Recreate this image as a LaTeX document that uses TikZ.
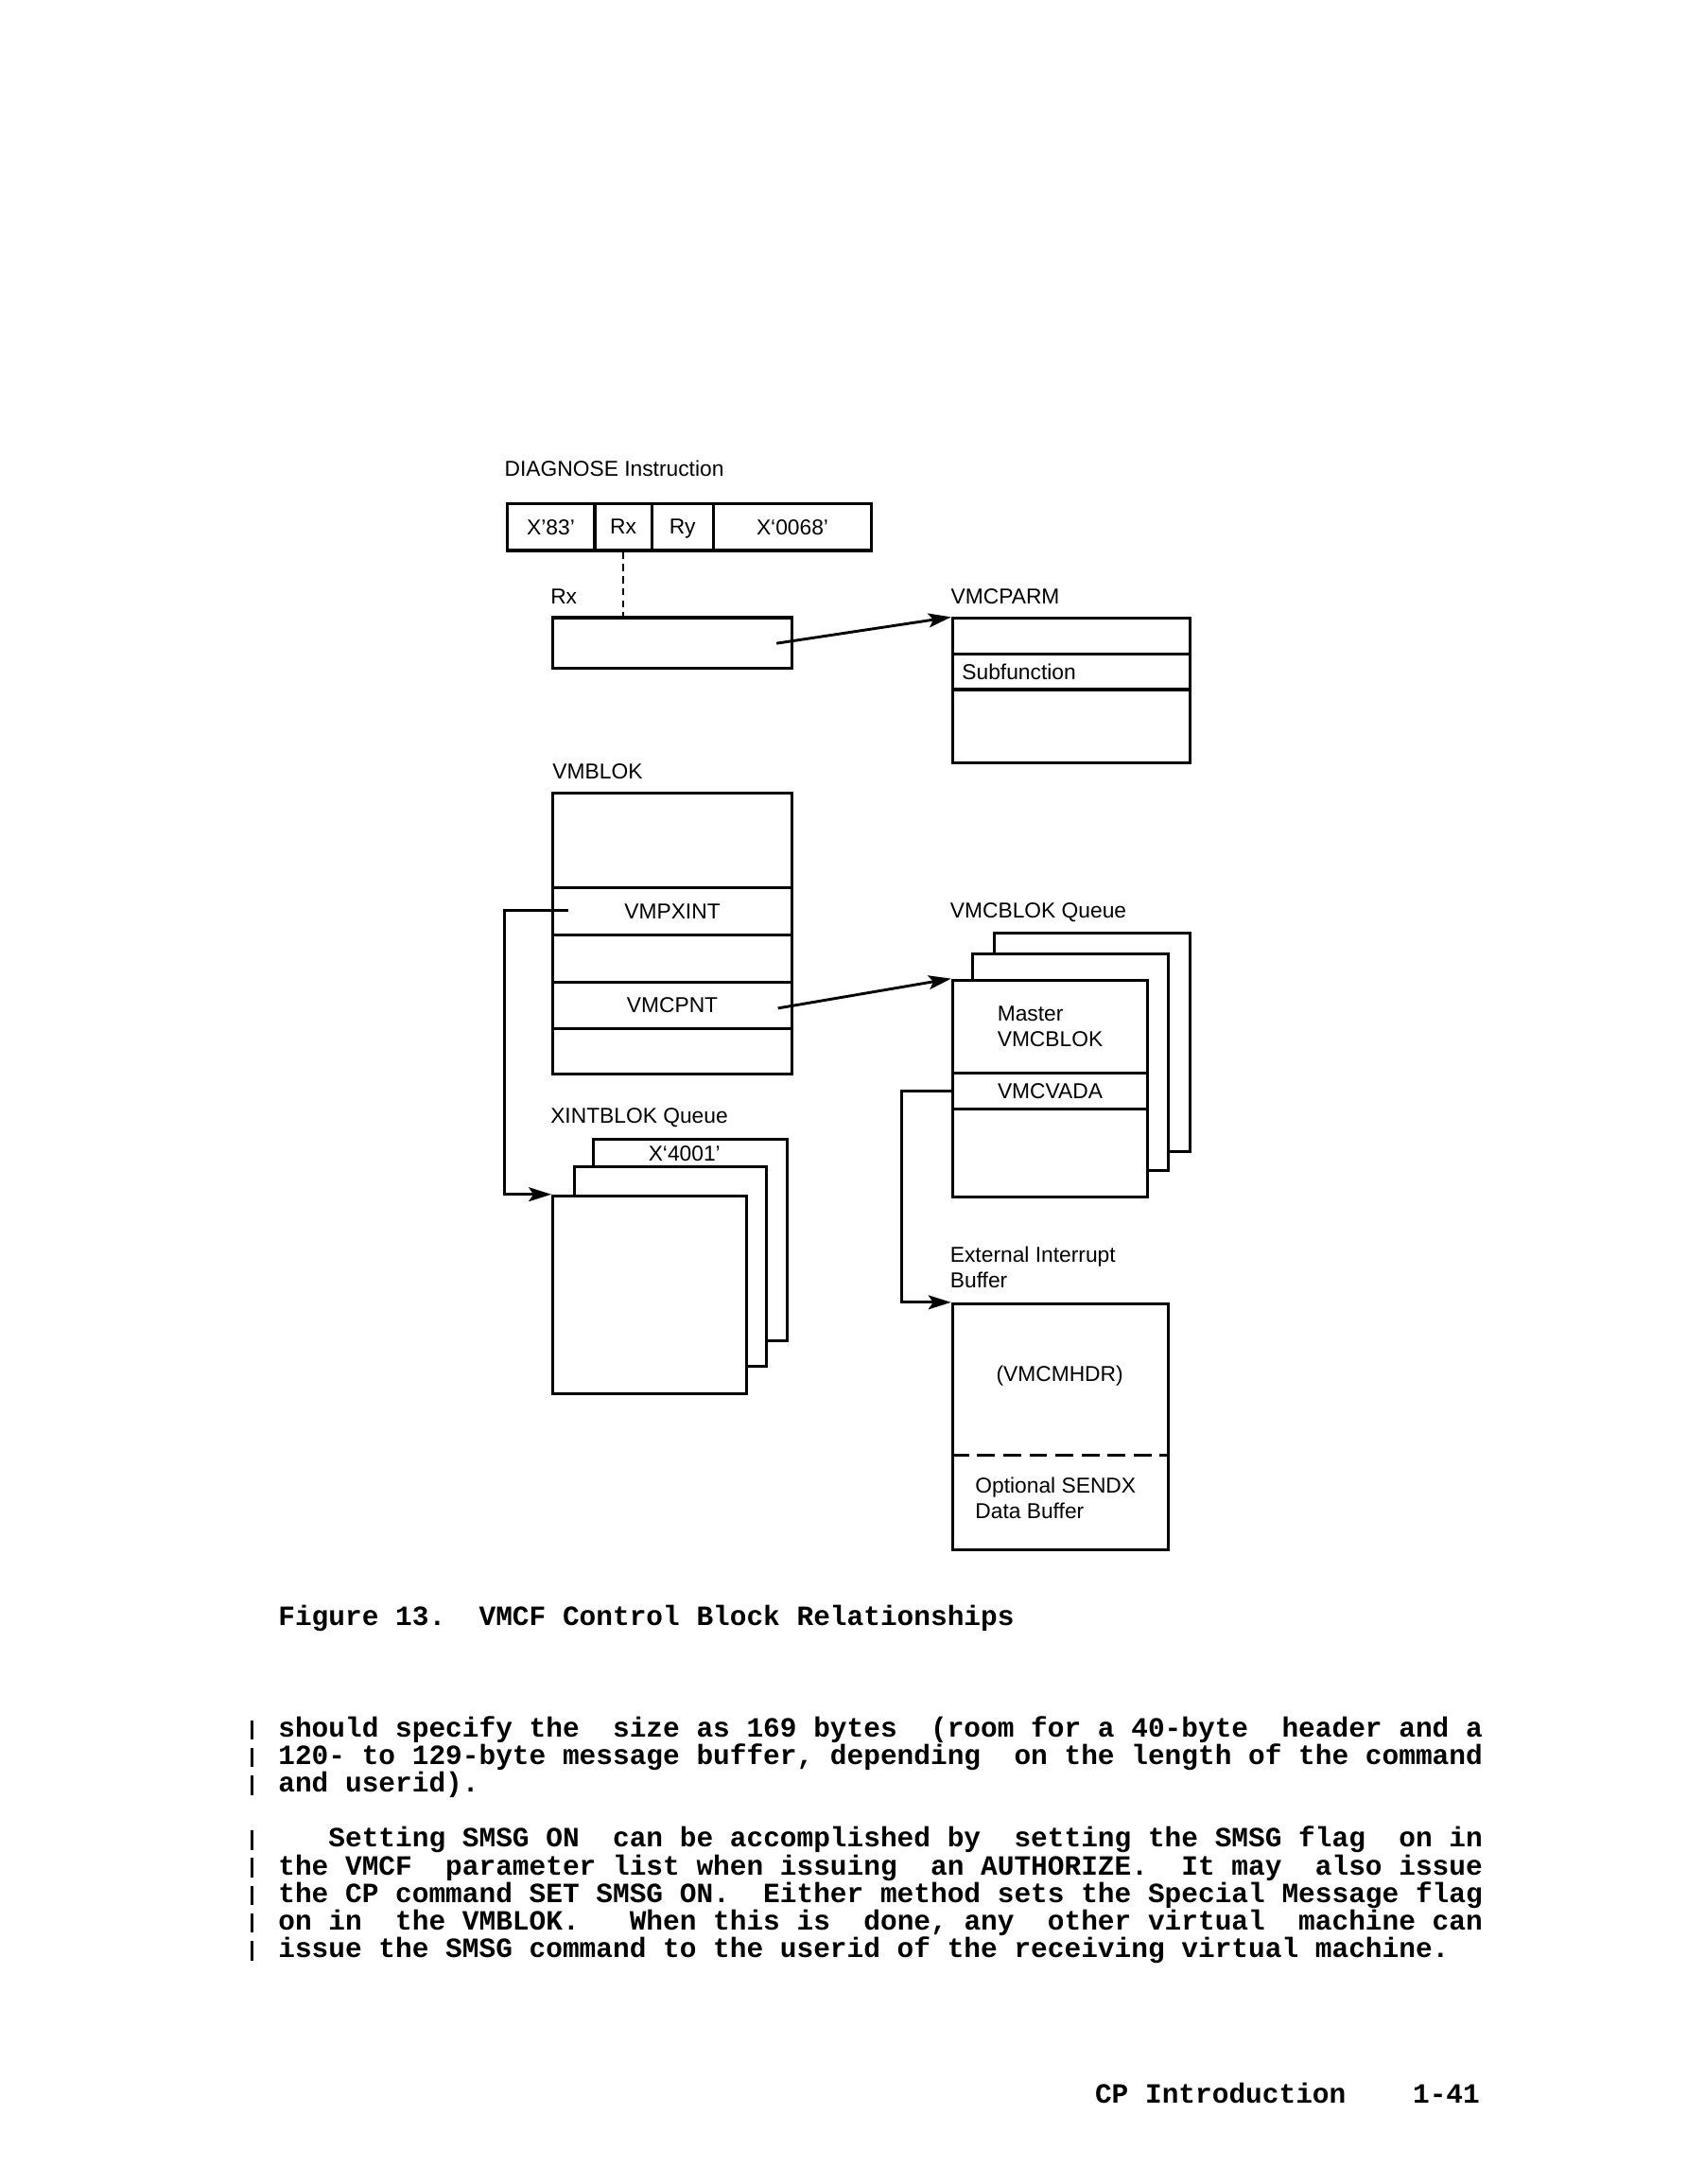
\documentclass[tikz,border=0pt]{standalone}
\usepackage{fontspec}
\setmainfont{Liberation Sans}
\newfontfamily\prtfont{Liberation Mono}
\usetikzlibrary{arrows.meta,calc}
\newcommand{\px}{0.017828cm}
\newcommand{\figfont}{\fontsize{7.85}{9.4}\selectfont}
\newcommand{\prtbody}{\prtfont\bfseries\fontsize{10.15}{12}\selectfont\frenchspacing}

\begin{document}
\begin{tikzpicture}[
    x=\px, y=-\px,
    fld/.style={draw, line width=1.05pt, rectangle, inner sep=0pt, anchor=north west, fill=white, font=\figfont, text depth=0pt},
    lbl/.style={inner sep=0pt, anchor=base west, font=\figfont},
    ptr/.style={-{Stealth[length=2.9mm,width=1.8mm,inset=0.6mm]}, line width=1pt},
    link/.style={line width=0.9pt},
    prtline/.style={inner sep=0pt, anchor=base west, font=\prtbody}
]

    % ---------- page ----------
    \fill[white] (0,0) rectangle (1211,1568);

    % ---------- DIAGNOSE instruction ----------
    \node[lbl] (tdiag) at (362,341.7) {DIAGNOSE Instruction};
    \node[fld, minimum width=63.1*\px, minimum height=33.8*\px] (i83) at (363,360.4) {X’83’};
    \node[fld, minimum width=40.9*\px, minimum height=33.8*\px] (irx) at (426.1,360.4) {Rx};
    \node[fld, minimum width=44.1*\px, minimum height=33.8*\px] (iry) at (467,360.4) {Ry};
    \node[fld, minimum width=113.9*\px, minimum height=33.8*\px] (i68) at (511.1,360.4) {X‘0068’};

    % ---------- Rx register ----------
    \node[lbl] (trx) at (395,433.5) {Rx};
    \node[fld, minimum width=171.6*\px, minimum height=36.1*\px] (rxreg) at (396,442.4) {};
    \draw[line width=0.7pt, dash pattern=on 2.6pt off 1.8pt] (irx.south) -- (irx.south |- rxreg.north);

    % ---------- VMCPARM ----------
    \node[lbl] (tparm) at (682.5,433.3) {VMCPARM};
    \node[fld, minimum width=170.3*\px, minimum height=25.4*\px] (vp1) at (683,443) {};
    \node[fld, minimum width=170.3*\px, minimum height=25.6*\px] (vp2) at (683,468.4) {};
    \node[fld, minimum width=170.3*\px, minimum height=52.4*\px] (vp3) at (683,494) {};
    \node[lbl] (tsub) at (690.5,487.6) {Subfunction};
    \draw[ptr] ($(rxreg.east)+(-12,0.4)$) -- (vp1.north west);

    % ---------- VMBLOK ----------
    \node[lbl] (tvmb) at (396.5,559) {VMBLOK};
    \node[fld, minimum width=171.6*\px, minimum height=67.9*\px] (vb1) at (396,568.6) {};
    \node[fld, minimum width=171.6*\px, minimum height=33.7*\px] (vb2) at (396,636.5) {VMPXINT};
    \node[fld, minimum width=171.6*\px, minimum height=34.2*\px] (vb3) at (396,670.2) {};
    \node[fld, minimum width=171.6*\px, minimum height=32.8*\px] (vb4) at (396,704.4) {VMCPNT};
    \node[fld, minimum width=171.6*\px, minimum height=32.8*\px] (vb5) at (396,737.2) {};

    % ---------- VMCBLOK queue ----------
    \node[lbl] (tmcq) at (682,659) {VMCBLOK Queue};
    \node[fld, minimum width=140.1*\px, minimum height=157.3*\px] (mcb) at (713.2,668.6) {};
    \node[fld, minimum width=140.5*\px, minimum height=155.7*\px] (mcm) at (697.6,683.8) {};
    \node[fld, minimum width=140.2*\px, minimum height=66.7*\px, align=left] (mc1) at (683,702.6) {Master\\VMCBLOK};
    \node[fld, minimum width=140.2*\px, minimum height=25.6*\px] (mc2) at (683,769.3) {VMCVADA};
    \node[fld, minimum width=140.2*\px, minimum height=63.6*\px] (mc3) at (683,794.9) {};
    \draw[ptr] ($(vb4.east)+(-11,2)$) -- (mc1.north west);

    % ---------- XINTBLOK queue ----------
    \node[lbl] (txq) at (395,806.6) {XINTBLOK Queue};
    \node[fld, minimum width=138.7*\px, minimum height=144.8*\px] (xb) at (425.4,816.8) {};
    \node[fld, minimum width=137.7*\px, minimum height=143*\px] (xm) at (411.5,836.7) {};
    \node[fld, minimum width=139.3*\px, minimum height=142.2*\px] (xf) at (396,857.5) {};
    \node[lbl, anchor=base] (t4001) at (491.5,833.8) {X‘4001’};
    \draw[link, ptr] ($(vb2.west)+(12,-1)$) -- ++(-45.7,0) |- (xf.north west);

    % ---------- external interrupt buffer ----------
    \node[lbl, anchor=north west, align=left] (text) at (682,894.6) {External Interrupt\\Buffer};
    \node[fld, minimum width=155.1*\px, minimum height=176.4*\px] (ebuf) at (683,935) {};
    \draw[line width=1.05pt, dash pattern=on 6.5pt off 3pt] (ebuf.west |- 0,1044.9) -- (ebuf.east |- 0,1044.9);
    \node[lbl, anchor=base] (thdr) at (761,992) {(VMCMHDR)};
    \node[lbl, anchor=north west, align=left] (tsendx) at (700,1060.4) {Optional SENDX\\Data Buffer};
    \draw[link, ptr] (mc2.west) -- ++(-35.6,0) |- (ebuf.north west);

    % ---------- caption and text ----------
    \node[prtline] (cap) at (199.5,1167) {Figure 13.~ VMCF Control Block Relationships};

    \node[prtline] (p1) at (199.5,1247) {should specify the~ size as 169 bytes~ (room for a 40-byte~ header and a};
    \node[prtline] (p2) at (199.5,1266.8) {120- to 129-byte message buffer, depending~ on the length of the command};
    \node[prtline] (p3) at (199.5,1286.6) {and userid).};
    \node[prtline] (p4) at (199.5,1326.2) {~~~Setting SMSG ON~ can be accomplished by~ setting the SMSG flag~ on in};
    \node[prtline] (p5) at (199.5,1346) {the VMCF~ parameter list when issuing~ an AUTHORIZE.~ It may~ also issue};
    \node[prtline] (p6) at (199.5,1365.8) {the CP command SET SMSG ON.~ Either method sets the Special Message flag};
    \node[prtline] (p7) at (199.5,1385.6) {on in~ the VMBLOK.~~ When this is~ done, any~ other virtual~ machine can};
    \node[prtline] (p8) at (199.5,1405.4) {issue the SMSG command to the userid of the receiving virtual machine.};

    % change bars
    \draw[line width=1.1pt]
        (181,1249) -- (181,1235)  (181,1268.8) -- (181,1254.8)  (181,1288.6) -- (181,1274.6)
        (181,1328.2) -- (181,1314.2)  (181,1348) -- (181,1334)  (181,1367.8) -- (181,1353.8)
        (181,1387.6) -- (181,1373.6)  (181,1407.4) -- (181,1393.4);

    % ---------- page footer ----------
    \node[prtline] (foot) at (786,1510) {CP Introduction~~~ 1-41};

\end{tikzpicture}
\end{document}
